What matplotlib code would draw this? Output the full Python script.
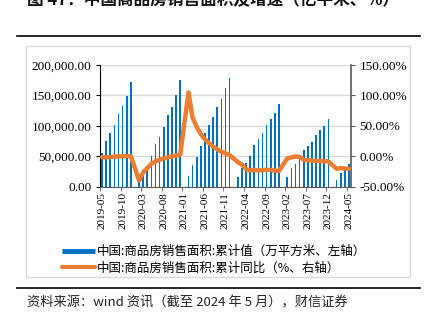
import numpy as np
import matplotlib
matplotlib.use('Agg')
import matplotlib.pyplot as plt
from matplotlib.lines import Line2D
from matplotlib.patches import Rectangle

plt.rcParams['font.family'] = ['Noto Sans CJK SC', 'DejaVu Sans']

nan = np.nan

# 2019-05 ~ 2024-05 月度（1月无数据）
months = [f'{y}-{m:02d}' for y in range(2019, 2025) for m in range(1, 13)]
months = months[4:4 + 61]

# 商品房销售面积累计值（万平方米）
area_2019 = [55518, 75786, 88928, 101849, 119179, 133251, 148905, 171558]
area_2020 = [nan, 8475, 21978, 33973, 50162, 69404, 81957, 98486, 117073, 131114, 151301, 176086]
area_2021 = [nan, 17363, 36007, 49541, 66194, 88635, 101153, 115250, 130332, 144278, 161458, 179433]
area_2022 = [nan, 15703, 31046, 39768, 50738, 68923, 78178, 87890, 101422, 111179, 121250, 135837]
area_2023 = [nan, 15133, 29946, 37636, 46440, 59515, 66563, 73949, 84806, 92579, 100509, 111735]
area_2024 = [nan, 11369, 22668, 29252, 36642]

# 累计同比（%）
yoy_2019 = [-1.6, -1.8, -1.3, -0.6, -0.1, 0.1, 0.2, -0.1]
yoy_2020 = [nan, -39.9, -26.3, -19.3, -12.3, -8.4, -5.8, -3.3, -1.8, 0.0, 1.3, 2.6]
yoy_2021 = [nan, 104.9, 63.8, 48.1, 36.3, 27.7, 21.5, 15.9, 11.3, 7.5, 4.8, 1.9]
yoy_2022 = [nan, -9.6, -13.8, -20.9, -23.6, -22.2, -23.1, -23.0, -22.2, -22.3, -23.3, -24.3]
yoy_2023 = [nan, -3.6, -1.8, -0.4, -0.9, -5.3, -6.5, -7.1, -7.5, -7.8, -8.0, -8.5]
yoy_2024 = [nan, -20.5, -19.4, -20.2, -20.3]

left_ticks = [0, 50000, 100000, 150000, 200000]
right_ticks = [-50, 0, 50, 100, 150]

area = np.array(area_2019 + area_2020 + area_2021 + area_2022 + area_2023 + area_2024, dtype=float)
yoy = np.array(yoy_2019 + yoy_2020 + yoy_2021 + yoy_2022 + yoy_2023 + yoy_2024, dtype=float)
x = np.arange(len(months))

serif = ['Liberation Serif', 'DejaVu Serif']

fig = plt.figure(figsize=(4.27, 3.25), dpi=100)

# 标题（顶部被裁切）
fig.text(27 / 427, 1 - 9 / 325, '图 47：中国商品房销售面积及增速（亿平米、%）',
         fontsize=12, fontweight='bold', ha='left', va='bottom', color='#111111')
fig.add_artist(Line2D([17 / 427, 420 / 427], [1 - 36 / 325, 1 - 36 / 325],
                      color='black', lw=1.2, transform=fig.transFigure))
fig.add_artist(Rectangle((26 / 427, 1 - 277 / 325), 384 / 427, 231 / 325,
                         transform=fig.transFigure, fill=False, edgecolor='#d9d9d9', lw=1))
fig.add_artist(Line2D([17 / 427, 420 / 427], [1 - 288 / 325, 1 - 288 / 325],
                      color='black', lw=1.2, transform=fig.transFigure))

ax = fig.add_axes([100 / 427, 1 - 186.7 / 325, 251 / 427, 121.7 / 325])
ax.bar(x, area, width=0.4, color='#0070C0', zorder=2)
ax.set_xlim(-0.5, len(months) - 0.5)
ax.set_ylim(0, 200000)
ax.set_yticks(left_ticks)
ax.set_yticklabels([f'{v:,.2f}' for v in left_ticks], fontfamily=serif, fontsize=9.5)
ax.grid(axis='y', color='#d9d9d9', lw=1, zorder=0)
ax.set_axisbelow(True)

ax2 = ax.twinx()
ok = ~np.isnan(yoy)
ax2.plot(x[ok], yoy[ok], color='#ED7D31', lw=3.2, solid_capstyle='round', zorder=3)
ax2.set_ylim(-50, 150)
ax2.set_yticks(right_ticks)
ax2.set_yticklabels([f'{v:.2f}%' for v in right_ticks], fontfamily=serif, fontsize=9.5)

lab_pos = x[::5]
ax.set_xticks(lab_pos)
ax.set_xticklabels([months[i] for i in lab_pos], rotation=90, fontfamily=serif, fontsize=8)
ax.set_xticks(lab_pos - 0.5, minor=True)
ax.tick_params(axis='x', which='major', length=0, pad=4)
ax.tick_params(axis='x', which='minor', length=3, direction='out', color='#595959')

ax.spines['top'].set_visible(False)
ax.spines['right'].set_visible(False)
ax2.spines['top'].set_visible(False)
ax2.spines['left'].set_visible(False)
ax2.spines['bottom'].set_visible(False)
ax.spines['left'].set_color('black')
ax.spines['bottom'].set_color('#595959')
ax2.spines['right'].set_color('#595959')
ax2.spines['right'].set_linewidth(1.2)

ax.tick_params(axis='y', length=3, direction='out', pad=3)
ax2.tick_params(axis='y', length=3, direction='out', pad=3, color='#595959')

handles = [Line2D([], [], color='#0070C0', lw=3.5, solid_capstyle='butt'),
           Line2D([], [], color='#ED7D31', lw=3, solid_capstyle='round')]
labels = ['中国:商品房销售面积:累计值（万平方米、左轴）',
          '中国:商品房销售面积:累计同比（%、右轴）']
fig.legend(handles, labels, loc='upper left', bbox_to_anchor=(62 / 427, 1 - 245 / 325),
           frameon=False, fontsize=9, handlelength=2.6, handletextpad=0.2,
           labelspacing=0.3, borderpad=0, borderaxespad=0)

fig.text(27 / 427, 1 - 303 / 325, '资料来源：wind 资讯（截至 2024 年 5 月），财信证券',
         fontsize=9.5, style='italic', ha='left', va='center', color='#222222')

fig.savefig('out.png', dpi=100)
